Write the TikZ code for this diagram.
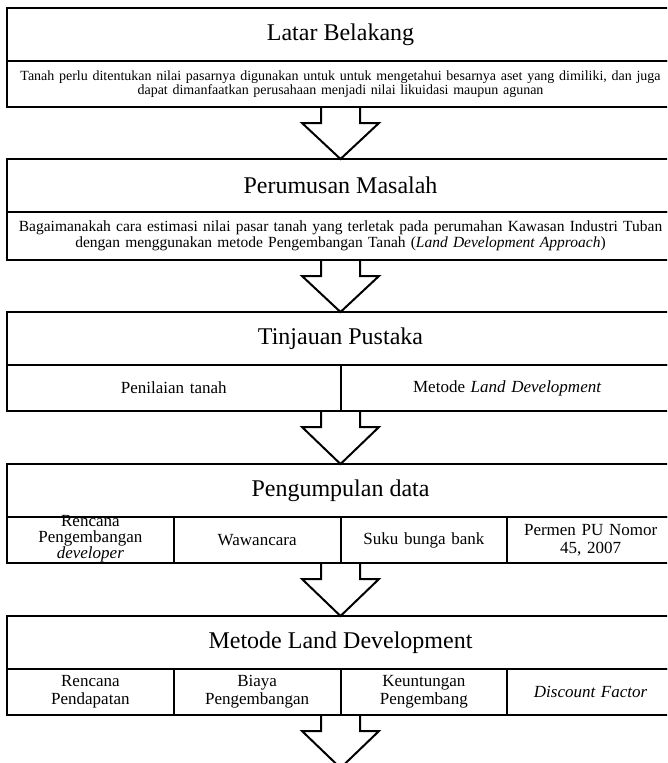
\documentclass[tikz,border=0pt]{standalone}
\usepackage{fontspec}
\setmainfont{Liberation Serif}
\usetikzlibrary{positioning,calc}

\tikzset{
  titlebox/.style={draw, line width=2pt, minimum width=667pt, minimum height=53pt,
    inner sep=0pt, outer sep=0pt, font=\fontsize{24}{28}\selectfont},
  textrow/.style={draw, line width=2pt, minimum width=667pt, minimum height=46pt,
    inner sep=0pt, outer sep=0pt, text width=660pt, align=center,
    font=\fontsize{14}{14}\selectfont},
  halfcell/.style={textrow, minimum width=333.5pt, text width=320pt,
    font=\fontsize{17}{18}\selectfont},
  quartercell/.style={halfcell, minimum width=166.75pt, text width=160pt},
  celltext/.style={inner sep=0pt, align=center, font=\fontsize{17}{16}\selectfont},
  blockarrow/.style={draw, line width=2pt, line join=miter}
}

\begin{document}
\begin{tikzpicture}[x=1pt, y=1pt]
\useasboundingbox (0,0) rectangle (667,-763);
\clip (0,0) rectangle (667,-763);
% Latar Belakang
\node[titlebox, anchor=north] (t1) at (340.5,-8) {Latar Belakang};
\node[textrow, below=0pt of t1] (r1) {Tanah perlu ditentukan nilai pasarnya digunakan untuk untuk mengetahui besarnya aset yang dimiliki, dan juga\\ dapat dimanfaatkan perusahaan menjadi nilai likuidasi maupun agunan};
% Perumusan Masalah
\node[titlebox, below=52pt of r1] (t2) {Perumusan Masalah};
\node[textrow, minimum height=48pt, font=\fontsize{15.5}{15.5}\selectfont, below=0pt of t2] (r2) {Bagaimanakah cara estimasi nilai pasar tanah yang terletak pada perumahan Kawasan Industri Tuban\\ dengan menggunakan metode Pengembangan Tanah (\textit{Land Development Approach})};
% Tinjauan Pustaka
\node[titlebox, below=52pt of r2] (t3) {Tinjauan Pustaka};
\node[halfcell, anchor=north west] (c31) at (t3.south west) {Penilaian tanah};
\node[halfcell, right=0pt of c31] (c32) {Metode \textit{Land Development}};
% Pengumpulan data
\node[titlebox, below=53pt of c31.south east] (t4) {Pengumpulan data};
\node[quartercell, anchor=north west] (c41) at (t4.south west) {};
\node[celltext] (c41t) at ($(c41)+(0,1)$) {Rencana\\ Pengembangan\\ \textit{developer}};
\node[quartercell, right=0pt of c41] (c42) {Wawancara};
\node[quartercell, right=0pt of c42] (c43) {Suku bunga bank};
\node[quartercell, right=0pt of c43] (c44) {Permen PU Nomor\\ 45, 2007};
% Metode Land Development
\node[titlebox, below=53pt of c42.south east] (t5) {Metode Land Development};
\node[quartercell, anchor=north west] (c51) at (t5.south west) {Rencana\\ Pendapatan};
\node[quartercell, right=0pt of c51] (c52) {Biaya\\ Pengembangan};
\node[quartercell, right=0pt of c52] (c53) {Keuntungan\\ Pengembang};
\node[quartercell, right=0pt of c53] (c54) {\textit{Discount Factor}};
\coordinate[below=53pt of c52.south east] (tip);
% panah blok
\foreach \from/\to in {r1.south/t2.north, r2.south/t3.north, c31.south east/t4.north,
  c42.south east/t5.north, c52.south east/tip}
  \draw[blockarrow] ($(\from)+(-19.5,0)$) |- ($(\from)+(-38.5,-16)$) -- (\to)
    -- ($(\from)+(38.5,-16)$) -| ($(\from)+(19.5,0)$);
\end{tikzpicture}
\end{document}
